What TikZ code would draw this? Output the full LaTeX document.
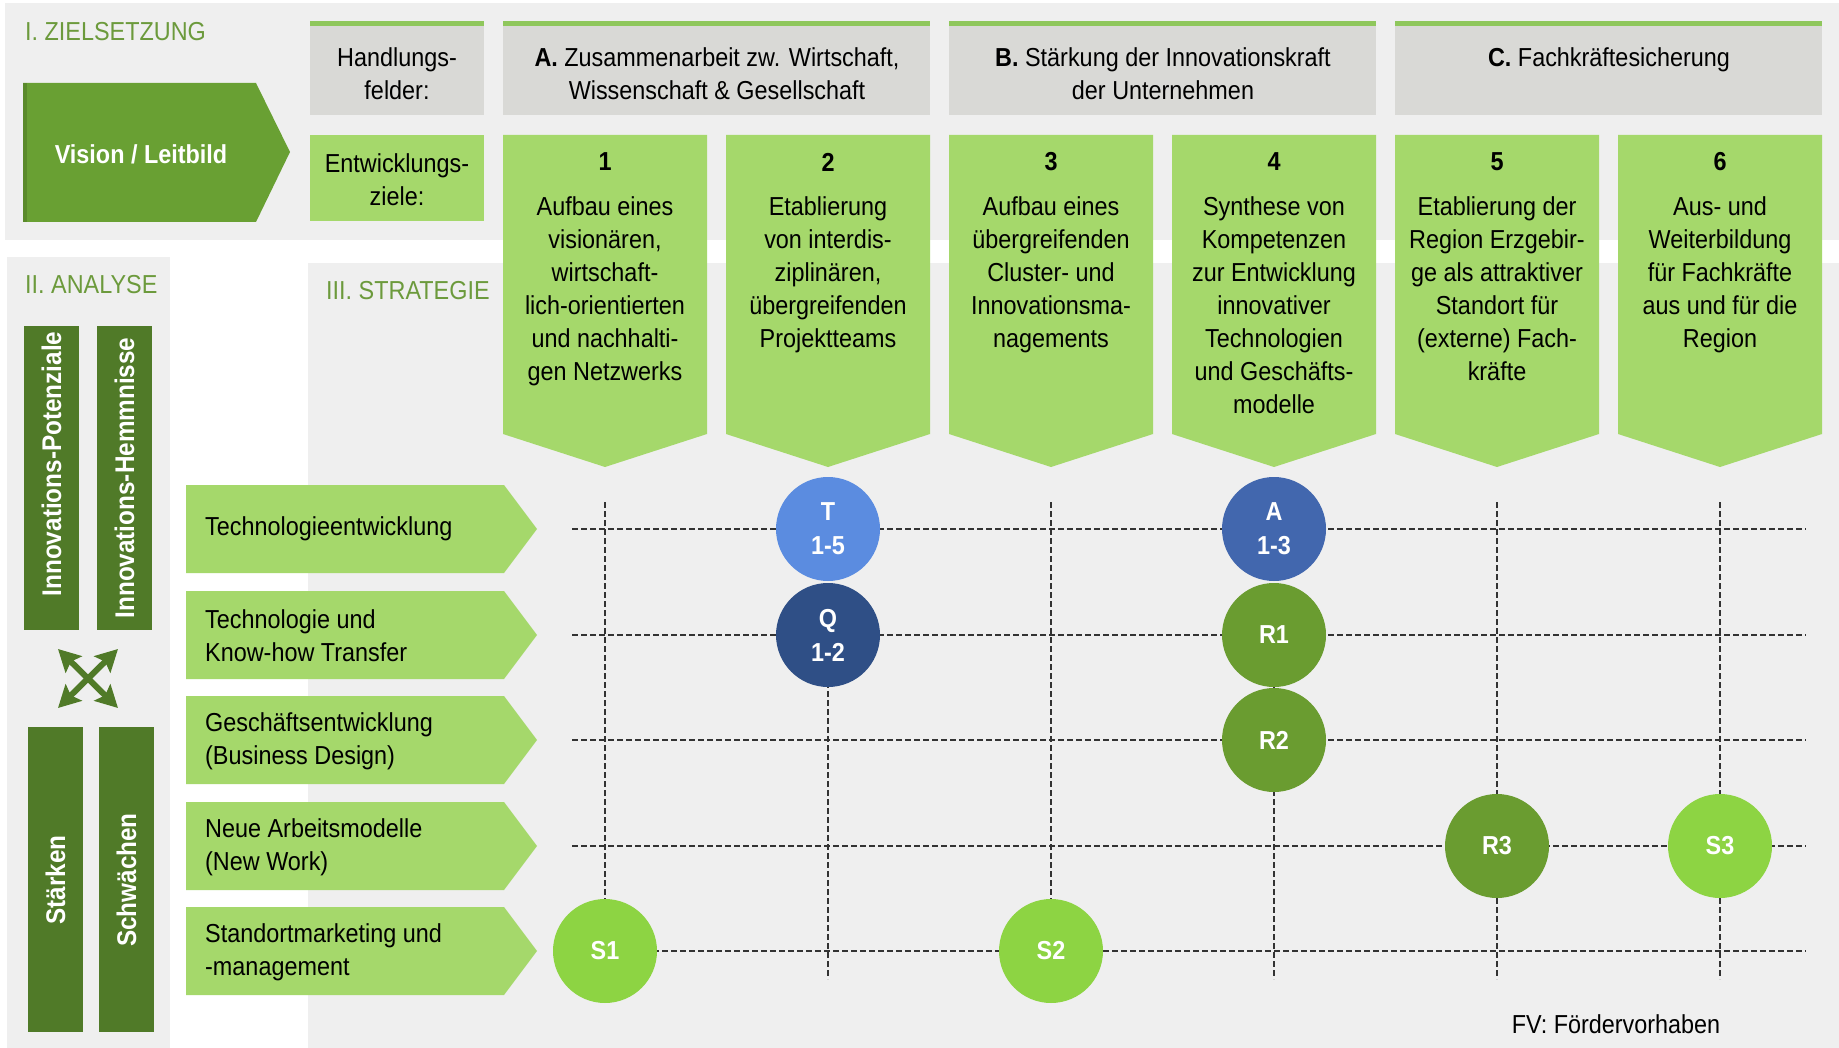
\documentclass[tikz,border=0pt]{standalone}
\usepackage{fontspec}
\setmainfont{Liberation Sans}[FakeStretch=0.9]
\usepackage{tikz}
\usetikzlibrary{
    arrows.meta
}
\definecolor{panelgray}{HTML}{EFEFEF}
\definecolor{headgray}{HTML}{D9D9D6}
\definecolor{topgreen}{HTML}{8FC75C}
\definecolor{fieldgreen}{HTML}{A5D86B}
\definecolor{visiongreen}{HTML}{69A033}
\definecolor{visionedge}{HTML}{5A8A2B}
\definecolor{bargreen}{HTML}{507A28}
\definecolor{titlegreen}{HTML}{6C9A3C}
\definecolor{tblue}{HTML}{5B8CE0}
\definecolor{ablue}{HTML}{4267AE}
\definecolor{qblue}{HTML}{2F4F86}
\definecolor{rgreen}{HTML}{6A9C30}
\definecolor{sgreen}{HTML}{8DD443}
\tikzset{
    txt/.style={font=\fontsize{26}{33}\selectfont, align=center, inner sep=0pt},
    title/.style={txt, text=titlegreen, anchor=west},
    num/.style={txt, font=\fontsize{26}{33}\selectfont\bfseries},
    bartext/.style={inner sep=0pt, rotate=90, text=white, font=\fontsize{27}{34}\selectfont\bfseries},
    rowtext/.style={txt, align=left, anchor=west},
    fv/.style={circle, minimum size=104pt, inner sep=0pt, align=center, text=white, font=\fontsize{26}{34}\selectfont\bfseries},
    gridline/.style={black!80, line width=1.4pt, dash pattern=on 6pt off 3pt},
    crossarrow/.style={bargreen, line width=6pt, {Stealth[length=22pt,width=23pt,inset=4pt]}-{Stealth[length=22pt,width=23pt,inset=4pt]}}
}

\begin{document}
\begin{tikzpicture}[x=1pt, y=-1pt]
      \useasboundingbox[fill=white] (0,0) rectangle (1839,1048);
      % panels
      \fill[panelgray] (5,3) rectangle (1839,240);
      \fill[panelgray] (7,257) rectangle (170,1048);
      \fill[panelgray] (308,263) rectangle (1839,1048);
      \node[title] (ziel) at (25,32) {I. ZIELSETZUNG};
      \node[title] (analyse) at (25,285) {II. ANALYSE};
      \node[title] (strategie) at (326,291) {III. STRATEGIE};

      % I. Zielsetzung
      \fill[visiongreen] (23,83) -- (256,83) -- (290,152) -- (256,222) -- (23,222) -- cycle;
      \fill[visionedge] (23,83) rectangle (27,222);
      \node[txt, text=white, font=\fontsize{26}{32}\selectfont\bfseries] (vision) at (141,154) {Vision / Leitbild};

      \fill[headgray] (310,23) rectangle (484,115);
      \fill[topgreen] (310,21) rectangle (484,26);
      \fill[fieldgreen] (310,135) rectangle (484,221);
      \node[txt, anchor=north] (hfelder) at (397,47) {Handlungs-\\felder:};
      \node[txt, anchor=north] (eziele) at (397,153) {Entwicklungs-\\ziele:};

      \fill[headgray] (503,23) rectangle (930,115);
      \fill[topgreen] (503,21) rectangle (930,26);
      \fill[headgray] (949,23) rectangle (1376,115);
      \fill[topgreen] (949,21) rectangle (1376,26);
      \fill[headgray] (1395,23) rectangle (1822,115);
      \fill[topgreen] (1395,21) rectangle (1822,26);
      \node[txt, anchor=north] (hA) at (717,47) {\textbf{A.} Zusammenarbeit zw. Wirtschaft,\\Wissenschaft \& Gesellschaft};
      \node[txt, anchor=north] (hB) at (1163,47) {\textbf{B.} Stärkung der Innovationskraft\\der Unternehmen};
      \node[txt, anchor=north] (hC) at (1609,47) {\textbf{C.} Fachkräftesicherung};

      % Entwicklungsziele
      \fill[fieldgreen] (503,135) -- (707,135) -- (707,434) -- (605,467) -- (503,434) -- cycle;
      \fill[fieldgreen] (726,135) -- (930,135) -- (930,434) -- (828,467) -- (726,434) -- cycle;
      \fill[fieldgreen] (949,135) -- (1153,135) -- (1153,434) -- (1051,467) -- (949,434) -- cycle;
      \fill[fieldgreen] (1172,135) -- (1376,135) -- (1376,434) -- (1274,467) -- (1172,434) -- cycle;
      \fill[fieldgreen] (1395,135) -- (1599,135) -- (1599,434) -- (1497,467) -- (1395,434) -- cycle;
      \fill[fieldgreen] (1618,135) -- (1822,135) -- (1822,434) -- (1720,467) -- (1618,434) -- cycle;
      \node[num] (n1) at (605,162) {1};
      \node[num] (n2) at (828,162) {2};
      \node[num] (n3) at (1051,162) {3};
      \node[num] (n4) at (1274,162) {4};
      \node[num] (n5) at (1497,162) {5};
      \node[num] (n6) at (1720,162) {6};
      \node[txt, anchor=north] (g1) at (605,196) {Aufbau eines\\visionären,\\wirtschaft-\\lich-orientierten\\und nachhalti-\\gen Netzwerks};
      \node[txt, anchor=north] (g2) at (828,196) {Etablierung\\von interdis-\\ziplinären,\\übergreifenden\\Projektteams};
      \node[txt, anchor=north] (g3) at (1051,196) {Aufbau eines\\übergreifenden\\Cluster- und\\Innovationsma-\\nagements};
      \node[txt, anchor=north] (g4) at (1274,196) {Synthese von\\Kompetenzen\\zur Entwicklung\\innovativer\\Technologien\\und Geschäfts-\\modelle};
      \node[txt, anchor=north] (g5) at (1497,196) {Etablierung der\\Region Erzgebir-\\ge als attraktiver\\Standort für\\(externe) Fach-\\kräfte};
      \node[txt, anchor=north] (g6) at (1720,196) {Aus- und\\Weiterbildung\\für Fachkräfte\\aus und für die\\Region};

      % II. Analyse
      \fill[bargreen] (24,326) rectangle (79,630);
      \fill[bargreen] (97,326) rectangle (152,630);
      \fill[bargreen] (28,727) rectangle (83,1032);
      \fill[bargreen] (99,727) rectangle (154,1032);
      \node[bartext] (potenziale) at (51.5,464) {Innovations-Potenziale};
      \node[bartext] (hemmnisse) at (124.5,478) {Innovations-Hemmnisse};
      \node[bartext] (staerken) at (55.5,880) {Stärken};
      \node[bartext] (schwaechen) at (126.5,880) {Schwächen};
      \coordinate (xa) at (58,649);
      \coordinate (xb) at (118,708);
      \coordinate (xc) at (118,649);
      \coordinate (xd) at (58,708);
      \draw[crossarrow] (xa) -- (xb);
      \draw[crossarrow] (xc) -- (xd);

      % III. Strategie
      \fill[fieldgreen] (186,485) -- (504,485) -- (537,529) -- (504,573) -- (186,573) -- cycle;
      \fill[fieldgreen] (186,591) -- (504,591) -- (537,635) -- (504,679) -- (186,679) -- cycle;
      \fill[fieldgreen] (186,696) -- (504,696) -- (537,740) -- (504,784) -- (186,784) -- cycle;
      \fill[fieldgreen] (186,802) -- (504,802) -- (537,846) -- (504,890) -- (186,890) -- cycle;
      \fill[fieldgreen] (186,907) -- (504,907) -- (537,951) -- (504,995) -- (186,995) -- cycle;
      \node[rowtext] (r1) at (205,529) {Technologieentwicklung};
      \node[rowtext] (r2) at (205,636) {Technologie und\\Know-how Transfer};
      \node[rowtext] (r3) at (205,741) {Geschäftsentwicklung\\(Business Design)};
      \node[rowtext] (r4) at (205,847) {Neue Arbeitsmodelle\\(New Work)};
      \node[rowtext] (r5) at (205,952) {Standortmarketing und\\-management};

      \coordinate (h1a) at (572,529);  \coordinate (h1b) at (1806,529);
      \coordinate (h2a) at (572,635);  \coordinate (h2b) at (1806,635);
      \coordinate (h3a) at (572,740);  \coordinate (h3b) at (1806,740);
      \coordinate (h4a) at (572,846);  \coordinate (h4b) at (1806,846);
      \coordinate (h5a) at (572,951);  \coordinate (h5b) at (1806,951);
      \coordinate (v1a) at (605,502);  \coordinate (v1b) at (605,979);
      \coordinate (v2a) at (828,502);  \coordinate (v2b) at (828,979);
      \coordinate (v3a) at (1051,502); \coordinate (v3b) at (1051,979);
      \coordinate (v4a) at (1274,502); \coordinate (v4b) at (1274,979);
      \coordinate (v5a) at (1497,502); \coordinate (v5b) at (1497,979);
      \coordinate (v6a) at (1720,502); \coordinate (v6b) at (1720,979);
      \draw[gridline] (h1a) -- (h1b);
      \draw[gridline] (h2a) -- (h2b);
      \draw[gridline] (h3a) -- (h3b);
      \draw[gridline] (h4a) -- (h4b);
      \draw[gridline] (h5a) -- (h5b);
      \draw[gridline] (v1a) -- (v1b);
      \draw[gridline] (v2a) -- (v2b);
      \draw[gridline] (v3a) -- (v3b);
      \draw[gridline] (v4a) -- (v4b);
      \draw[gridline] (v5a) -- (v5b);
      \draw[gridline] (v6a) -- (v6b);

      % Foerdervorhaben
      \node[fv, fill=tblue] (t) at (828,529) {T\\1-5};
      \node[fv, fill=qblue] (q) at (828,635) {Q\\1-2};
      \node[fv, fill=ablue] (a) at (1274,529) {A\\1-3};
      \node[fv, fill=rgreen] (r1fv) at (1274,635) {R1};
      \node[fv, fill=rgreen] (r2fv) at (1274,740) {R2};
      \node[fv, fill=rgreen] (r3fv) at (1497,846) {R3};
      \node[fv, fill=sgreen] (s1) at (605,951) {S1};
      \node[fv, fill=sgreen] (s2) at (1051,951) {S2};
      \node[fv, fill=sgreen] (s3) at (1720,846) {S3};
      \node[txt] (legende) at (1616,1024) {FV: Fördervorhaben};
\end{tikzpicture}
\end{document}
